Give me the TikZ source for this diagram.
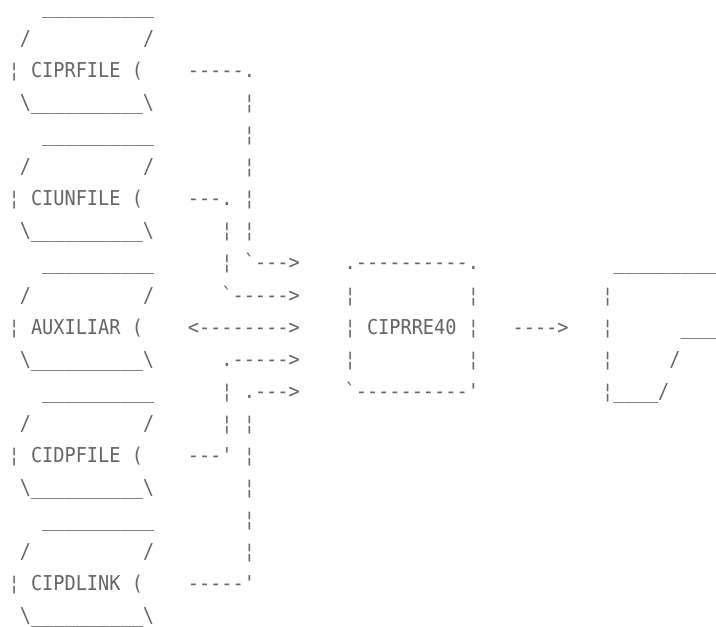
\documentclass[tikz,border=0pt]{standalone}
\usepackage{fontspec}
\setmonofont{DejaVu Sans Mono}[FakeStretch=0.9075]
\usepackage{xcolor}
\usepackage{tikz}

\definecolor{ink}{HTML}{646464}
\newcommand{\tenbar}{\_\_\_\_\_\_\_\_\_\_}
% one run of characters at column #1, row #2
\newcommand{\chr}[3]{\node[asc] (c#1r#2) at ({8.4+11.2*#1},{13.5+32.06*#2}) {#3};}

\begin{document}
\begin{tikzpicture}[x=1pt,y=-1pt,
	asc/.style={font=\ttfamily\fontsize{20.5pt}{20.5pt}\selectfont,
		text=ink, inner sep=0pt, anchor=base west}]
	\useasboundingbox (0,0) rectangle (716,627);
	% file symbols
	\foreach \lab/\r in {CIPRFILE/2,CIUNFILE/6,AUXILIAR/10,CIDPFILE/14,CIPDLINK/18}{
		\pgfmathtruncatemacro\topr{\r-2}
		\pgfmathtruncatemacro\slr{\r-1}
		\pgfmathtruncatemacro\botr{\r+1}
		\chr{3}{\topr}{\tenbar}
		\chr{1}{\slr}{/}
		\chr{12}{\slr}{/}
		\chr{0}{\r}{¦}
		\node[asc] (\lab) at ({8.4+11.2*2},{13.5+32.06*\r}) {\lab};
		\chr{11}{\r}{(}
		\chr{1}{\botr}{\textbackslash\tenbar\textbackslash}
	}
	% links into the program
	\chr{16}{2}{-----.}
	\foreach \r in {3,4,5,6,7,13,14,15,16,17}{\chr{21}{\r}{¦}}
	\chr{16}{6}{---.}
	\chr{19}{7}{¦}
	\chr{19}{8}{¦}
	\chr{21}{8}{`--->}
	\chr{19}{9}{`----->}
	\chr{16}{10}{<-------->}
	\chr{19}{11}{.----->}
	\chr{19}{12}{¦}
	\chr{21}{12}{.--->}
	\chr{19}{13}{¦}
	\chr{16}{14}{---'}
	\chr{16}{18}{-----'}
	% program box
	\chr{30}{8}{.----------.}
	\foreach \r in {9,10,11}{\chr{30}{\r}{¦}\chr{41}{\r}{¦}}
	\node[asc] (CIPRRE40) at ({8.4+11.2*32},{13.5+32.06*10}) {CIPRRE40};
	\chr{30}{12}{`----------'}
	\chr{45}{10}{---->}
	% report symbol
	\chr{54}{8}{\tenbar\_\_}
	\foreach \r in {9,10,11,12}{\chr{53}{\r}{¦}}
	\chr{60}{10}{\_\_\_\_\_}
	\chr{59}{11}{/}
	\chr{54}{12}{\_\_\_\_/}
\end{tikzpicture}
\end{document}
